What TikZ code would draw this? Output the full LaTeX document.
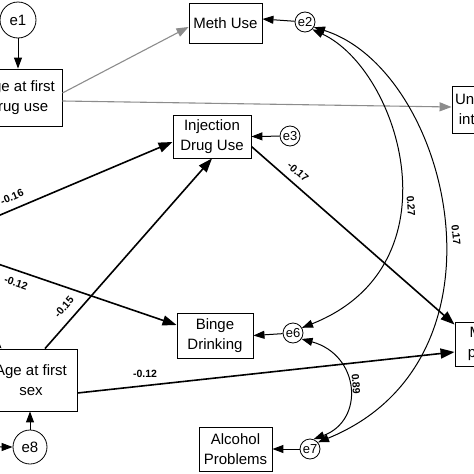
\documentclass[tikz,border=0pt]{standalone}
\usepackage{fontspec}
\setmainfont{Liberation Sans}
\usetikzlibrary{arrows.meta}
\usetikzlibrary{positioning}
\definecolor{PathGray}{HTML}{8C8C8C}
\tikzset{
  varbox/.style={draw, line width=0.9pt, align=center, inner sep=2pt,
    font=\fontsize{15}{20}\selectfont},
  errsmall/.style={draw, circle, line width=0.8pt, inner sep=0pt,
    minimum size=20pt, font=\fontsize{13}{13}\selectfont},
  errbig/.style={draw, circle, line width=0.8pt, inner sep=0pt,
    minimum size=36pt, font=\fontsize{15}{15}\selectfont},
  pathline/.style={line width=1.6pt, -{Triangle[length=14pt,width=10pt]}},
  grayline/.style={PathGray, line width=1.1pt, -{Triangle[length=12pt,width=9pt]}},
  errline/.style={line width=1pt, -{Triangle[length=11pt,width=8pt]}},
  covline/.style={line width=1pt,
    {Triangle[length=11pt,width=8pt]}-{Triangle[length=11pt,width=8pt]}},
  coef/.style={font=\bfseries\fontsize{10.5}{12}\selectfont, inner sep=0pt}
}
\begin{document}
\begin{tikzpicture}[x=1pt, y=-1pt]
  \useasboundingbox (0,0) rectangle (474,474);
  \clip (0,0) rectangle (474,474);

  % observed variables
  \node[varbox, minimum width=86pt, minimum height=57pt] (AgeDrug) at (19,97.5) {Age at first\\drug use};
  \node[varbox, minimum width=92pt, minimum height=62pt] (AgeSex) at (31,380) {Age at first\\sex};
  \node[varbox, minimum width=73pt, minimum height=40pt] (MethUse) at (225.5,23) {Meth Use};
  \node[varbox, minimum width=78pt, minimum height=43pt] (InjUse) at (212,136.5) {Injection\\Drug Use};
  \node[varbox, minimum width=76pt, minimum height=45pt] (Binge) at (215,335.5) {Binge\\Drinking};
  \node[varbox, minimum width=73pt, minimum height=44pt] (AlcProb) at (235.5,449) {Alcohol\\Problems};
  \node[varbox, minimum width=88pt, minimum height=47pt] (Unprot) at (496,109.5) {Unprotected\\intercourse};
  \node[varbox, minimum width=81pt, minimum height=44pt] (MultPart) at (495.5,344) {Multiple\\partners};

  % error terms
  \node[errbig] (Eone) at (18,20) {e1};
  \node[errbig, minimum size=34pt] (Eeight) at (30,447) {e8};
  \node[errsmall] (Etwo) at (305,22) {e2};
  \node[errsmall] (Ethree) at (290,136) {e3};
  \node[errsmall] (Esix) at (293,333) {e6};
  \node[errsmall] (Eseven) at (310,449) {e7};

  \coordinate (Lone)   at (-40,232);
  \coordinate (Ltwo)   at (-40,251);
  \coordinate (Lthree) at (-40,300);

  \draw[errline] (Eone) -- (Eone |- AgeDrug.north);
  \draw[errline] (Eeight) -- (Eeight |- AgeSex.south);
  \draw[errline] (Etwo) -- ([yshift=4pt]MethUse.east);
  \draw[errline] (Ethree) -- (InjUse.east);
  \draw[errline] (Esix) -- (Binge.east);
  \draw[errline] (Eseven) -- (AlcProb.east);

  \draw[grayline] ([yshift=4.5pt]AgeDrug.east) -- ([yshift=-4pt]MethUse.west);
  \draw[grayline] ([yshift=-3.5pt]AgeDrug.east) -- ([yshift=2.5pt]Unprot.west);

  \draw[pathline] (Lone) -- ([yshift=-5.5pt]InjUse.west);
  \draw[pathline] (Ltwo) -- ([yshift=10.5pt]Binge.west);
  \draw[pathline] (Lthree) -- ([xshift=17pt]AgeSex.north west);
  \draw[pathline] ([xshift=14pt]AgeSex.north) -- (InjUse.south);
  \draw[pathline] ([yshift=-10pt]InjUse.east) -- ([yshift=-3pt]MultPart.north west);
  \draw[pathline] ([yshift=-13pt]AgeSex.east) -- ([yshift=-8pt]MultPart.west);

  \node[coef, rotate=23]  (Cone)   at (12,197)  {-0.16};
  \node[coef, rotate=-19] (Ctwo)   at (16,283)  {-0.12};
  \node[coef, rotate=49]  (Cthree) at (64,307)  {-0.15};
  \node[coef, rotate=-41] (Cfour)  at (298,172) {-0.17};
  \node[coef]             (Cfive)  at (145,374) {-0.12};

  % correlated errors
  \draw[covline] (Eone.west) .. controls (-120,20) and (-120,447) .. (Eeight.west);
  \draw[covline] (Etwo.-45) .. controls (400,70) and (460,265) .. (Esix.30);
  \draw[covline] (Etwo.-30) .. controls (450,70) and (520,360) .. (Eseven.40);
  \draw[covline] (Esix.-35) .. controls (360,355) and (365,420) .. (Eseven.70);

  \node[coef, rotate=-86] (Csix)   at (411,206) {0.27};
  \node[coef, rotate=-84] (Cseven) at (456,235) {0.17};
  \node[coef, rotate=-86] (Ceight) at (356,384) {0.89};
\end{tikzpicture}
\end{document}
